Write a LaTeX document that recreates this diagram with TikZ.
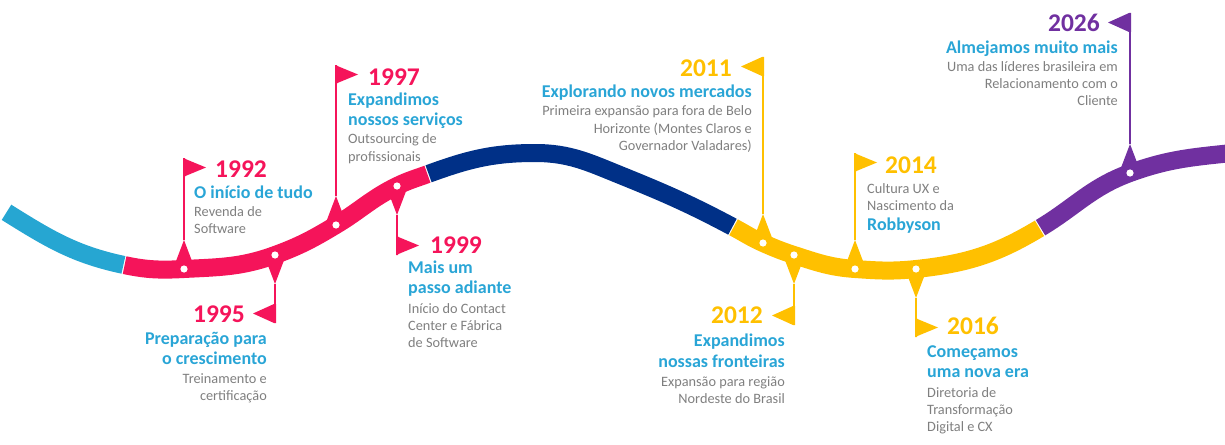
\documentclass[tikz,border=0pt]{standalone}
\usepackage{fontspec}
\setmainfont{Carlito}
\definecolor{lb}{RGB}{38,166,210}
\definecolor{pk}{RGB}{245,20,90}
\definecolor{nv}{RGB}{0,48,135}
\definecolor{yl}{RGB}{255,192,0}
\definecolor{pu}{RGB}{112,48,160}
\definecolor{tb}{RGB}{41,165,214}
\definecolor{gr}{RGB}{127,127,127}
\tikzset{
  band/.style={line width=18pt, line cap=butt, shorten <=0.6pt, shorten >=0.6pt},
  yr/.style={font=\fontsize{25.5}{25.5}\selectfont\bfseries, inner sep=0pt},
  ttl/.style={font=\fontsize{18}{18}\selectfont\bfseries, text=tb, inner sep=0pt},
  bdy/.style={font=\fontsize{14.3}{14.3}\selectfont, text=gr, inner sep=0pt},
}
\newcommand\mk[6]{%
  \fill[#6] (#1-11,-#2) -- (#1,{-#2+29*(#3)}) -- (#1+11,-#2) -- cycle;
  \draw[#6, line width=2pt] (#1,{-#2+29*(#3)}) -- (#1,-#4);
  \fill[#6] (#1-1,-#4) -- ({#1+22*(#5)},{-#4-9.5*(#3)}) -- (#1-1,{-#4-19*(#3)}) -- (#1+1,{-#4-19*(#3)}) -- (#1+1,-#4) -- cycle;
}
\newcommand\tx[5]{\node[#1, anchor=base #2] (#3) at (#4) {#5};}
\begin{document}
\begin{tikzpicture}[x=1pt,y=1pt]
\useasboundingbox (0,0) rectangle (1225,-444);
% centerline points
\coordinate (A0) at (6,-212);
\coordinate (A1) at (124,-265);
\coordinate (A2) at (184,-269);
\coordinate (A3) at (275,-255);
\coordinate (A4) at (336,-225);
\coordinate (A5) at (397,-186);
\coordinate (A6) at (428,-174);
\coordinate (A7) at (535,-153);
\coordinate (A8) at (620,-175);
\coordinate (A9) at (733,-227);
\coordinate (A10) at (763,-243);
\coordinate (A11) at (794,-255);
\coordinate (A12) at (855,-269);
\coordinate (A13) at (916,-269);
\coordinate (A14) at (1040,-228);
\coordinate (A15) at (1130,-173);
\coordinate (A16) at (1232,-153);
% band
\draw[band, lb] (A0) to[out=-32,in=168] (A1);
\draw[band, pk] (A1) to[out=-12,in=183] (A2) to[out=3,in=200] (A3) to[out=20,in=211] (A4) to[out=31,in=206] (A5) to[out=26,in=200] (A6);
\draw[band, nv] (A6) to[out=20,in=180] (A7) to[out=0,in=158] (A8) to[out=-22,in=152] (A9);
\draw[band, yl] (A9) to[out=-28,in=156] (A10) to[out=-24,in=162] (A11) to[out=-18,in=176] (A12) to[out=-4,in=186] (A13) to[out=6,in=211] (A14);
\draw[band, pu, shorten >=0pt] (A14) to[out=31,in=200] (A15) to[out=20,in=186] (A16);
% markers
\mk{184}{269}{1}{158}{1}{pk}
\mk{275}{255}{-1}{323}{-1}{pk}
\mk{336}{225}{1}{65}{1}{pk}
\mk{397}{186}{-1}{255}{1}{pk}
\mk{763}{243}{1}{57}{-1}{yl}
\mk{794}{255}{-1}{325}{-1}{yl}
\mk{855}{269}{1}{153}{1}{yl}
\mk{916}{269}{-1}{337}{1}{yl}
\mk{1130}{173}{1}{13}{-1}{pu}
\foreach \p in {A2,A3,A4,A5,A10,A11,A12,A13,A15} \fill[white] (\p) circle (3.6);
% texts 1992
\tx{yr, text=pk}{west}{y92}{215,-177}{1992}
\tx{ttl}{west}{t92}{194,-198}{O início de tudo}
\tx{bdy}{west}{b92a}{194,-216}{Revenda de}
\tx{bdy}{west}{b92b}{194,-233}{Software}
% 1995
\tx{yr, text=pk}{east}{y95}{245,-322}{1995}
\tx{ttl}{east}{t95a}{267,-344}{Preparação para}
\tx{ttl}{east}{t95b}{267,-364}{o crescimento}
\tx{bdy}{east}{b95a}{267,-383}{Treinamento e}
\tx{bdy}{east}{b95b}{267,-400}{certificação}
% 1997
\tx{yr, text=pk}{west}{y97}{368,-85}{1997}
\tx{ttl}{west}{t97a}{348,-105}{Expandimos}
\tx{ttl}{west}{t97b}{348,-125}{nossos serviços}
\tx{bdy}{west}{b97a}{348,-143}{Outsourcing de}
\tx{bdy}{west}{b97b}{348,-161}{profissionais}
% 1999
\tx{yr, text=pk}{west}{y99}{430,-253}{1999}
\tx{ttl}{west}{t99a}{408,-273}{Mais um}
\tx{ttl}{west}{t99b}{408,-293}{passo adiante}
\tx{bdy}{west}{b99a}{408,-313}{Início do Contact}
\tx{bdy}{west}{b99b}{408,-330}{Center e Fábrica}
\tx{bdy}{west}{b99c}{408,-347}{de Software}
% 2011
\tx{yr, text=yl}{east}{y11}{732,-77}{2011}
\tx{ttl}{east}{t11}{752,-97}{Explorando novos mercados}
\tx{bdy}{east}{b11a}{752,-115}{Primeira expansão para fora de Belo}
\tx{bdy}{east}{b11b}{752,-133}{Horizonte (Montes Claros e}
\tx{bdy}{east}{b11c}{752,-150}{Governador Valadares)}
% 2012
\tx{yr, text=yl}{east}{y12}{763,-323}{2012}
\tx{ttl}{east}{t12a}{785,-346}{Expandimos}
\tx{ttl}{east}{t12b}{785,-367}{nossas fronteiras}
\tx{bdy}{east}{b12a}{785,-386}{Expansão para região}
\tx{bdy}{east}{b12b}{785,-403}{Nordeste do Brasil}
% 2014
\tx{yr, text=yl}{west}{y14}{885,-173}{2014}
\tx{bdy}{west}{b14a}{867,-193}{Cultura UX e}
\tx{bdy}{west}{b14b}{867,-210}{Nascimento da}
\tx{ttl}{west}{t14}{867,-230}{Robbyson}
% 2016
\tx{yr, text=yl}{west}{y16}{947,-334}{2016}
\tx{ttl}{west}{t16a}{927,-357}{Começamos}
\tx{ttl}{west}{t16b}{927,-377}{uma nova era}
\tx{bdy}{west}{b16a}{927,-397}{Diretoria de}
\tx{bdy}{west}{b16b}{927,-414}{Transformação}
\tx{bdy}{west}{b16c}{927,-431}{Digital e CX}
% 2026
\tx{yr, text=pu}{east}{y26}{1100,-32}{2026}
\tx{ttl}{east}{t26}{1118,-53}{Almejamos muito mais}
\tx{bdy}{east}{b26a}{1118,-71}{Uma das líderes brasileira em}
\tx{bdy}{east}{b26b}{1118,-88}{Relacionamento com o}
\tx{bdy}{east}{b26c}{1118,-105}{Cliente}
\end{tikzpicture}
\end{document}
